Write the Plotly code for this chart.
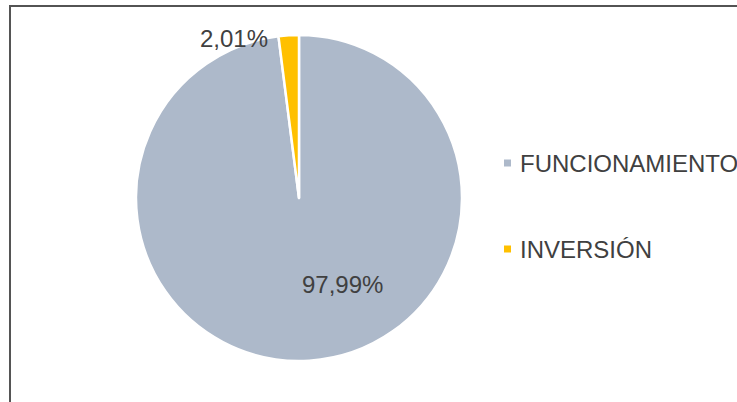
import plotly.graph_objects as go

W, H = 737, 402

categories = ["FUNCIONAMIENTO", "INVERSIÓN"]
values = [97.99, 2.01]
colors = ["#ADB9CA", "#FFC000"]
value_labels = ["97,99%", "2,01%"]

FONT = "Liberation Sans, Arial, sans-serif"
TXT = "#404040"

def px(x):
    return x / W

def py(y):
    return 1 - y / H

fig = go.Figure()
fig.add_trace(go.Pie(
    labels=categories,
    values=values,
    sort=False,
    direction="clockwise",
    rotation=0,
    marker=dict(colors=colors, line=dict(color="white", width=2.5)),
    textinfo="none",
    hoverinfo="label+percent",
    showlegend=False,
    domain=dict(x=[px(136), px(462)], y=[py(361), py(35)]),
))

annotations = []
# data labels
label_pos = [(342, 284), (234, 38)]
for txt, (x, y) in zip(value_labels, label_pos):
    annotations.append(dict(x=px(x), y=py(y), xref="paper", yref="paper", text=txt,
                            showarrow=False, xanchor="center", yanchor="middle",
                            font=dict(family=FONT, size=24, color=TXT)))

# legend (manual)
shapes = []
leg_y = [163, 249]
for name, col, y in zip(categories, colors, leg_y):
    shapes.append(dict(type="rect", xref="paper", yref="paper",
                       x0=px(504), x1=px(511), y0=py(y - 3.5), y1=py(y + 3.5),
                       fillcolor=col, line=dict(width=0)))
    annotations.append(dict(x=px(518), y=py(y), xref="paper", yref="paper", text=name,
                            showarrow=False, xanchor="left", yanchor="middle",
                            font=dict(family=FONT, size=24, color=TXT)))

# frame lines
shapes.append(dict(type="line", xref="paper", yref="paper", x0=px(9), x1=1, y0=py(6), y1=py(6),
                   line=dict(color="#1a1a1a", width=1.5)))
shapes.append(dict(type="line", xref="paper", yref="paper", x0=px(10), x1=px(10), y0=py(5.5), y1=0,
                   line=dict(color="#555555", width=2)))

fig.update_layout(
    width=W, height=H,
    margin=dict(l=0, r=0, t=0, b=0),
    paper_bgcolor="white",
    plot_bgcolor="white",
    annotations=annotations,
    shapes=shapes,
    showlegend=False,
)

fig.write_html("out.html",
               config={"displayModeBar": False},
               post_script="document.body.style.margin='0';document.body.style.overflow='hidden';")
